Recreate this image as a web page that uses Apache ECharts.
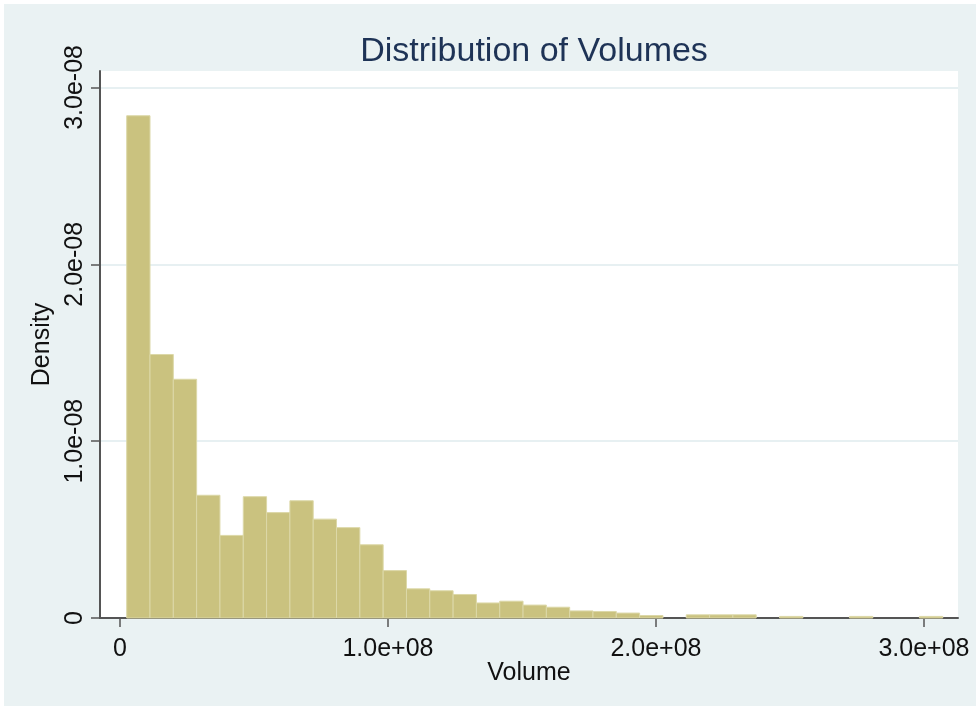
<!DOCTYPE html>
<html>
<head>
<meta charset="utf-8">
<script src="https://cdn.jsdelivr.net/npm/echarts@6/dist/echarts.min.js"></script>
<style>
  html, body { margin: 0; padding: 0; background: #ffffff; }
  #chart { width: 976px; height: 712px; }
</style>
</head>
<body>
<div id="chart"></div>
<script>
// ---- Data ----
const titleText = 'Distribution of Volumes';
const xAxisName = 'Volume';
const yAxisName = 'Density';

// Histogram bins: first bin lower edge and bin width (Volume units)
const binStart = 2.5e6;
const binWidth = 8.7e6;

// Density of each bin (35 bins)
const densities = [
  2.84e-8, 1.49e-8, 1.35e-8, 0.694e-8, 0.467e-8,
  0.686e-8, 0.596e-8, 0.663e-8, 0.559e-8, 0.511e-8,
  0.414e-8, 0.268e-8, 0.165e-8, 0.154e-8, 0.133e-8,
  0.085e-8, 0.095e-8, 0.073e-8, 0.061e-8, 0.040e-8,
  0.037e-8, 0.028e-8, 0.014e-8, 0.0, 0.018e-8,
  0.018e-8, 0.018e-8, 0.0, 0.009e-8, 0.0,
  0.0, 0.009e-8, 0.0, 0.0, 0.009e-8
];

const xTickValues = [0, 1e8, 2e8, 3e8];
const xTickLabels = ['0', '1.0e+08', '2.0e+08', '3.0e+08'];
const yTickValues = [0, 1e-8, 2e-8, 3e-8];
const yTickLabels = ['0', '1.0e-08', '2.0e-08', '3.0e-08'];

// ---- Build series data [lowerEdge, upperEdge, density] ----
const barData = [];
densities.forEach(function (d, i) {
  if (d > 0) {
    barData.push([binStart + i * binWidth, binStart + (i + 1) * binWidth, d]);
  }
});

function labelFor(values, labels) {
  return function (v) {
    for (let i = 0; i < values.length; i++) {
      if (Math.abs(v - values[i]) <= Math.abs(values[values.length - 1]) * 1e-6) return labels[i];
    }
    return '';
  };
}

const chart = echarts.init(document.getElementById('chart'), null, { renderer: 'canvas' });

const font = '"Liberation Sans", Arial, sans-serif';

const option = {
  backgroundColor: '#ffffff',
  animation: false,
  graphic: [{
    type: 'rect',
    z: -100,
    silent: true,
    shape: { x: 4, y: 4, width: 972, height: 702 },
    style: { fill: '#EAF2F3' }
  }],
  title: {
    text: titleText,
    left: 529,
    top: 30,
    textAlign: 'center',
    textStyle: {
      fontFamily: font,
      fontSize: 34,
      fontWeight: 'normal',
      color: '#1E3356'
    }
  },
  grid: {
    left: 100,
    right: 18,
    top: 71,
    bottom: 94,
    show: true,
    backgroundColor: '#ffffff',
    borderWidth: 0
  },
  xAxis: {
    type: 'value',
    min: -7.46e6,
    max: 3.127e8,
    name: xAxisName,
    nameLocation: 'middle',
    nameGap: 43,
    nameMoveOverlap: false,
    nameTextStyle: { fontFamily: font, fontSize: 25, color: '#111111' },
    axisLine: { show: true, onZero: false, lineStyle: { color: '#555555', width: 2 } },
    axisTick: { show: true, length: 9, customValues: xTickValues, lineStyle: { color: '#555555', width: 1.5 } },
    axisLabel: {
      show: true,
      customValues: xTickValues,
      formatter: labelFor(xTickValues, xTickLabels),
      margin: 19,
      fontFamily: font,
      fontSize: 25,
      color: '#111111',
      showMinLabel: true,
      showMaxLabel: true
    },
    splitLine: { show: false }
  },
  yAxis: {
    type: 'value',
    min: 0,
    max: 3.093e-8,
    name: yAxisName,
    nameLocation: 'middle',
    nameGap: 40,
    nameRotate: 90,
    nameTextStyle: { fontFamily: font, fontSize: 25, color: '#111111' },
    axisLine: { show: true, onZero: false, lineStyle: { color: '#555555', width: 2 } },
    axisTick: { show: true, length: 9, customValues: yTickValues, lineStyle: { color: '#555555', width: 1.5 } },
    axisLabel: {
      show: true,
      customValues: yTickValues,
      formatter: labelFor(yTickValues, yTickLabels),
      rotate: 90,
      margin: 12,
      fontFamily: font,
      fontSize: 25,
      color: '#111111',
      showMinLabel: true,
      showMaxLabel: true
    },
    splitLine: { show: true, lineStyle: { color: '#DFEBEE', width: 1.5 } }
  },
  series: [{
    type: 'custom',
    clip: false,
    data: barData,
    encode: { x: [0, 1], y: 2 },
    renderItem: function (params, api) {
      const p0 = api.coord([api.value(0), 0]);
      const p1 = api.coord([api.value(1), api.value(2)]);
      return {
        type: 'rect',
        shape: { x: p0[0], y: p1[1], width: p1[0] - p0[0], height: p0[1] - p1[1] },
        style: { fill: '#CAC27F', stroke: '#DCD8A8', lineWidth: 1 }
      };
    }
  }]
};

chart.setOption(option);
</script>
</body>
</html>
